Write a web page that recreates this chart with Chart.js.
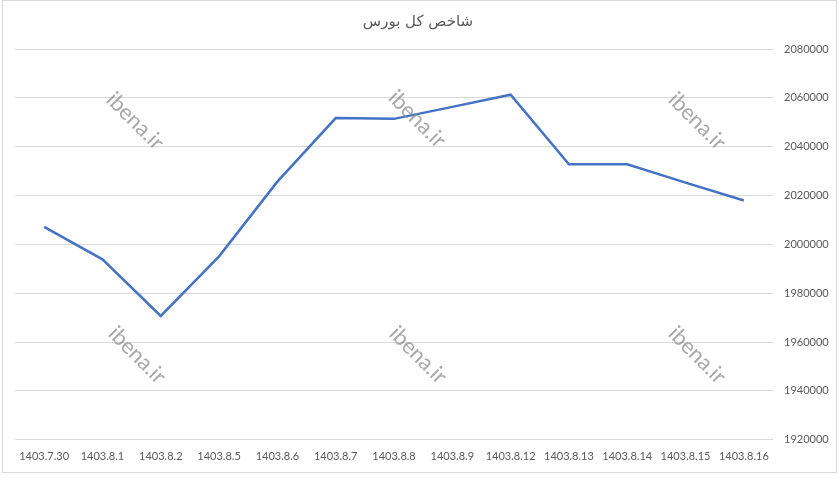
<!DOCTYPE html>
<html>
<head>
<meta charset="utf-8">
<script src="https://cdn.jsdelivr.net/npm/chart.js@4.4.1/dist/chart.umd.min.js"></script>
<style>
    html, body { margin: 0; padding: 0; background: #ffffff; }
</style>
</head>
<body>
<canvas id="indexChart" width="839" height="478"></canvas>
<script>
// data
var chartTitle = "شاخص کل بورس";
var dates = ["1403.7.30", "1403.8.1", "1403.8.2", "1403.8.5", "1403.8.6", "1403.8.7", "1403.8.8",
    "1403.8.9", "1403.8.12", "1403.8.13", "1403.8.14", "1403.8.15", "1403.8.16"];
var indexValues = [2007200, 1993900, 1970700, 1995100, 2025700, 2051700, 2051400,
    2056300, 2061300, 2032800, 2032800, 2025300, 2018000];
var yMin = 1920000;
var yMax = 2080000;
var yStep = 20000;
var watermarkText = "ibena.ir";

// frame, title and watermark drawn on the canvas
var extrasPlugin = {
    id: "extras",
    beforeDraw: function (chart) {
        var ctx = chart.ctx;
        ctx.save();
        ctx.fillStyle = "#ffffff";
        ctx.fillRect(0, 0, chart.width, chart.height);
        ctx.strokeStyle = "#d9d9d9";
        ctx.lineWidth = 1;
        ctx.strokeRect(2.5, 0.5, 834, 472);
        // title, centred like the original
        ctx.fillStyle = "#595959";
        ctx.font = "15px 'DejaVu Sans', 'Noto Sans', sans-serif";
        ctx.textAlign = "center";
        ctx.textBaseline = "middle";
        ctx.fillText(chartTitle, 418, 22);
        ctx.restore();
    },
    afterDatasetsDraw: function (chart) {
        var ctx = chart.ctx;
        var spots = [[135, 121], [417, 119], [697, 121], [137, 355], [418, 355], [697, 355]];
        ctx.save();
        ctx.fillStyle = "rgba(140,140,140,0.75)";
        ctx.font = "22px Lato, 'Liberation Sans', sans-serif";
        ctx.textAlign = "center";
        ctx.textBaseline = "middle";
        spots.forEach(function (p) {
            ctx.save();
            ctx.translate(p[0], p[1]);
            ctx.rotate(Math.PI / 4);
            ctx.fillText(watermarkText, 0, 0);
            ctx.restore();
        });
        ctx.restore();
    }
};

var ctx = document.getElementById("indexChart").getContext("2d");
var myLineChart = new Chart(ctx, {
    type: "line",
    data: {
        labels: dates,
        datasets: [
            {
                data: indexValues,
                borderColor: "#4472c4",
                borderWidth: 2.5,
                pointRadius: 0,
                tension: 0,
                fill: false
            }
        ]
    },
    options: {
        responsive: false,
        animation: false,
        layout: {
            padding: { left: 15, right: 0, top: 49, bottom: 5 }
        },
        plugins: {
            legend: { display: false },
            tooltip: { enabled: false },
            title: { display: false }
        },
        scales: {
            x: {
                offset: true,
                grid: { display: false, drawTicks: false },
                border: { display: false },
                ticks: {
                    color: "#595959",
                    font: { family: "Lato, 'Liberation Sans', sans-serif", size: 11 },
                    maxRotation: 0,
                    autoSkip: false,
                    padding: 10
                }
            },
            y: {
                position: "right",
                min: yMin,
                max: yMax,
                grid: { color: "#d9d9d9", drawTicks: false },
                border: { display: false },
                ticks: {
                    stepSize: yStep,
                    color: "#595959",
                    font: { family: "Lato, 'Liberation Sans', sans-serif", size: 11 },
                    padding: 11,
                    callback: function (v) { return String(v); }
                },
                afterFit: function (scale) { scale.width = 66; }
            }
        }
    },
    plugins: [extrasPlugin]
});
</script>
</body>
</html>
